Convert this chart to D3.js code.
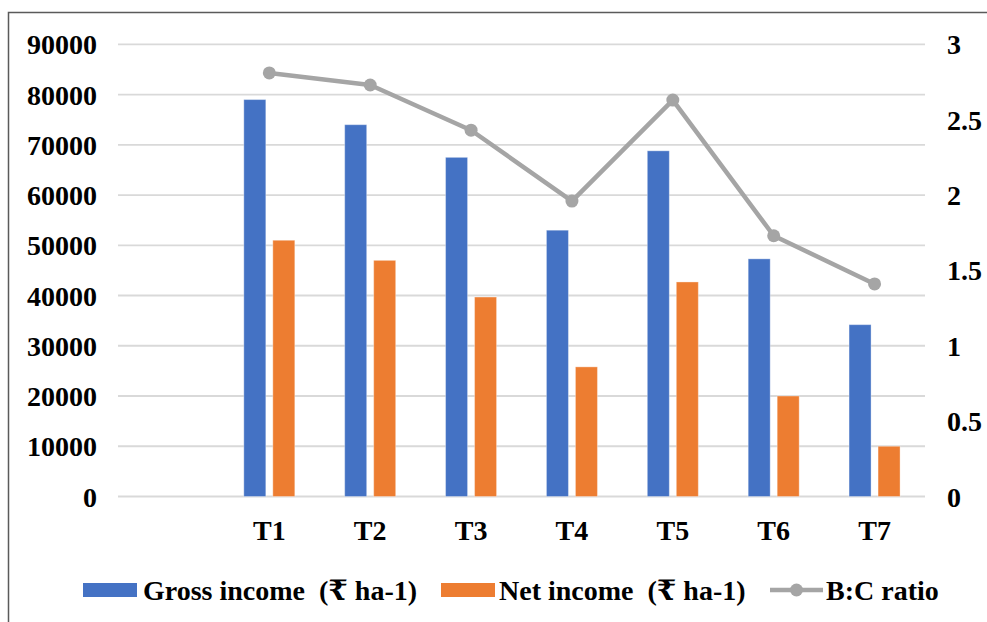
<!DOCTYPE html>
<html>
<head>
<meta charset="utf-8">
<script src="https://cdn.jsdelivr.net/npm/d3@7"></script>
<style>
  html, body { margin: 0; padding: 0; background: #fff; }
  svg { display: block; }
  svg text { font-family: "Liberation Serif", Times, "Times New Roman", "DejaVu Serif", serif !important; font-weight: bold; fill: #000; }
</style>
</head>
<body>
<script>
// chart values
let categories = ["", "T1", "T2", "T3", "T4", "T5", "T6", "T7"]
let treatments = ["T1", "T2", "T3", "T4", "T5", "T6", "T7"]
let grossIncome = [79000, 74000, 67500, 53000, 68800, 47300, 34200]
let netIncome = [51000, 47000, 39700, 25800, 42700, 20000, 10000]
let bcRatio = [2.81, 2.73, 2.43, 1.96, 2.63, 1.73, 1.41]
let leftTicks = [0, 10000, 20000, 30000, 40000, 50000, 60000, 70000, 80000, 90000]
let rightTicks = [0, 0.5, 1, 1.5, 2, 2.5, 3]
let seriesNames = ["Gross income  (\u20B9 ha-1)", "Net income  (\u20B9 ha-1)", "B:C ratio"]

let W = 987, H = 622
let blue = "#4472C4", orange = "#ED7D31", grey = "#A5A5A5", gridCol = "#D9D9D9"
let serif = "'Liberation Serif', Times, 'Times New Roman', 'DejaVu Serif', serif"

let svg = d3.select("body").append("svg")
    .attr("width", W)
    .attr("height", H)

// outer frame (only left and top edges show in the crop)
svg.append("path")
    .attr("d", "M8.5," + H + " L8.5,12.5 L" + W + ",12.5")
    .attr("fill", "none")
    .attr("stroke", "#5a5a5a")
    .attr("stroke-width", 1.5)

let x = d3.scaleBand()
    .domain(categories)
    .range([118, 925])

let yL = d3.scaleLinear()
    .domain([0, 90000])
    .range([496.5, 44.3])

let yR = d3.scaleLinear()
    .domain([0, 3])
    .range([496.5, 44.3])

// gridlines
svg.append("g")
    .selectAll("line")
    .data(leftTicks)
    .join("line")
    .attr("x1", 118)
    .attr("x2", 925)
    .attr("y1", d => yL(d))
    .attr("y2", d => yL(d))
    .attr("stroke", gridCol)
    .attr("stroke-width", 1.8)

// left axis
let axL = svg.append("g")
    .attr("transform", "translate(97,0)")
    .call(d3.axisLeft(yL).tickValues(leftTicks).tickSize(0).tickPadding(0).tickFormat(d3.format("d")))
axL.attr("font-family", serif).attr("font-size", 28)
axL.select(".domain").remove()
axL.selectAll("text").attr("dy", "0.34em")

// right axis
let axR = svg.append("g")
    .attr("transform", "translate(947,0)")
    .call(d3.axisRight(yR).tickValues(rightTicks).tickSize(0).tickPadding(0).tickFormat(d => String(d)))
axR.attr("font-family", serif).attr("font-size", 28)
axR.select(".domain").remove()
axR.selectAll("text").attr("dy", "0.34em")

// bottom axis (category labels)
let axB = svg.append("g")
    .attr("transform", "translate(0,496.5)")
    .call(d3.axisBottom(x).tickSize(0).tickPadding(24))
axB.attr("font-family", serif).attr("font-size", 28)
axB.select(".domain").remove()
axB.selectAll("text").attr("dy", "0.71em")

// bars
let x1 = d3.scaleBand()
    .domain(["gross", "net"])
    .range([-25.5, 25.5])
    .paddingInner(7 / 29)

let barData = []
treatments.forEach((t, i) => {
    barData.push({ t: t, k: "gross", v: grossIncome[i], c: blue })
    barData.push({ t: t, k: "net", v: netIncome[i], c: orange })
})

svg.append("g")
    .selectAll("rect")
    .data(barData)
    .join("rect")
    .attr("x", d => x(d.t) + x.bandwidth() / 2 + x1(d.k))
    .attr("y", d => yL(d.v))
    .attr("width", x1.bandwidth())
    .attr("height", d => yL(0) - yL(d.v))
    .attr("fill", d => d.c)
    .attr("stroke", "#ffffff")
    .attr("stroke-opacity", 0.35)
    .attr("stroke-width", 1)

// B:C ratio line
let lineData = treatments.map((t, i) => ({ t: t, v: bcRatio[i] }))
let line = d3.line()
    .x(d => x(d.t) + x.bandwidth() / 2)
    .y(d => yR(d.v))

svg.append("path")
    .datum(lineData)
    .attr("d", line)
    .attr("fill", "none")
    .attr("stroke", grey)
    .attr("stroke-width", 4.5)
    .attr("stroke-linejoin", "round")

svg.append("g")
    .selectAll("circle")
    .data(lineData)
    .join("circle")
    .attr("cx", d => x(d.t) + x.bandwidth() / 2)
    .attr("cy", d => yR(d.v))
    .attr("r", 6.5)
    .attr("fill", grey)

// legend
let legY = 590
let leg = svg.append("g")
    .attr("font-family", serif)
    .attr("font-size", 28)

leg.append("rect")
    .attr("x", 83).attr("y", legY - 7).attr("width", 54).attr("height", 14)
    .attr("fill", blue)
leg.append("text")
    .attr("x", 143).attr("y", legY).attr("dy", "0.34em")
    .style("white-space", "pre")
    .text(seriesNames[0])

leg.append("rect")
    .attr("x", 441).attr("y", legY - 7).attr("width", 54).attr("height", 14)
    .attr("fill", orange)
leg.append("text")
    .attr("x", 499).attr("y", legY).attr("dy", "0.34em")
    .style("white-space", "pre")
    .text(seriesNames[1])

leg.append("line")
    .attr("x1", 770).attr("x2", 823).attr("y1", legY).attr("y2", legY)
    .attr("stroke", grey).attr("stroke-width", 4.5)
leg.append("circle")
    .attr("cx", 796.5).attr("cy", legY).attr("r", 6.5)
    .attr("fill", grey)
leg.append("text")
    .attr("x", 826).attr("y", legY).attr("dy", "0.34em")
    .text(seriesNames[2])
</script>
</body>
</html>
